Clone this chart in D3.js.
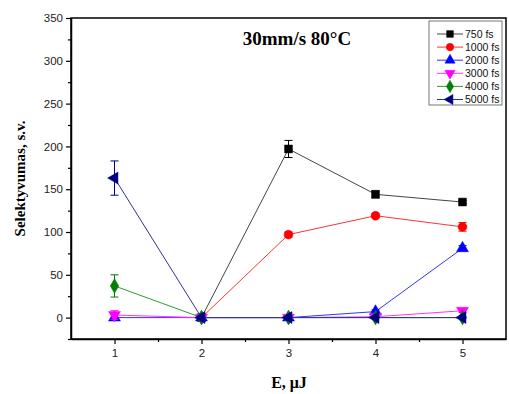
<!DOCTYPE html>
<html><head><meta charset="utf-8">
<script src="https://cdn.jsdelivr.net/npm/d3@7"></script>
<style>body{margin:0;background:#fff}svg{display:block}</style>
</head><body>
<script>
const energies = [1, 2, 3, 4, 5];
const seriesNames = ["750 fs", "1000 fs", "2000 fs", "3000 fs", "4000 fs", "5000 fs"];
const colors = ["#000000", "#ff0000", "#0000ff", "#ff00ff", "#008000", "#000080"];
const lineColors = ["#444444", "#ff3333", "#3333ff", "#ff33ff", "#339933", "#33338f"];
const symbols = ["square", "circle", "triUp", "triDown", "diamond", "triLeft"];
const v750 = [null, 0, 197, 144, 135];
const e750 = [0, 0, 10, 4, 2];
const v1000 = [null, 0, 97, 119, 106];
const e1000 = [0, 0, 3, 2, 5];
const v2000 = [0, 0, 0, 7, 81];
const e2000 = [0, 0, 0, 2, 3];
const v3000 = [3, 0, 0, 1, 8];
const e3000 = [5, 0, 0, 1, 2];
const v4000 = [37, 0, 0, 0, 0];
const e4000 = [13, 0, 0, 0, 0];
const v5000 = [163, 0, 0, 0, 0];
const e5000 = [20, 0, 0, 0, 0];
const values = [v750, v1000, v2000, v3000, v4000, v5000];
const errors = [e750, e1000, e2000, e3000, e4000, e5000];
const yTicks = [0, 50, 100, 150, 200, 250, 300, 350];
const xTicks = [1, 2, 3, 4, 5];
const title = "30mm/s 80°C";
const xLabel = "E, μJ";
const yLabel = "Selektyvumas, s.v.";

const W = 509, H = 394;
const m = {l: 71, r: 3, t: 18, b: 55};
const svg = d3.select("body").append("svg").attr("width", W).attr("height", H);
const x = d3.scaleLinear().domain([0.5, 5.5]).range([m.l, W - m.r]);
const y = d3.scaleLinear().domain([-25, 350]).range([H - m.b, m.t]);

// frame
svg.append("rect").attr("x", x(0.5)).attr("y", y(350)).attr("width", x(5.5) - x(0.5)).attr("height", y(-25) - y(350))
  .attr("fill", "none").attr("stroke", "#000").attr("stroke-width", 1.5);

// axes
const xAxis = d3.axisBottom(x).tickValues(xTicks).tickSize(5).tickSizeOuter(0).tickFormat(d3.format("d")).tickPadding(5);
svg.append("g").attr("transform", `translate(0,${y(-25)})`).call(xAxis);
const xMinor = d3.axisBottom(x).tickValues([1.5, 2.5, 3.5, 4.5]).tickSize(3).tickSizeOuter(0).tickFormat("");
svg.append("g").attr("transform", `translate(0,${y(-25)})`).call(xMinor).select(".domain").remove();
const yAxis = d3.axisLeft(y).tickValues(yTicks).tickSize(5).tickSizeOuter(0).tickPadding(3);
svg.append("g").attr("transform", `translate(${x(0.5)},0)`).call(yAxis);
const yMinor = d3.axisLeft(y).tickValues([-25, 25, 75, 125, 175, 225, 275, 325]).tickSize(3).tickSizeOuter(0).tickFormat("");
svg.append("g").attr("transform", `translate(${x(0.5)},0)`).call(yMinor).select(".domain").remove();
svg.selectAll(".domain").attr("stroke-width", 1.5);
svg.selectAll(".tick line").attr("stroke-width", 1.2);
svg.selectAll(".tick text").attr("font-family", "Liberation Sans, Arial, sans-serif").attr("font-size", 11.5).attr("fill", "#222");

// symbols
const sym = {
  square: d3.symbolSquare, circle: d3.symbolCircle, triUp: d3.symbolTriangle,
  triDown: d3.symbolTriangle, diamond: d3.symbolDiamond, triLeft: d3.symbolTriangle
};
const rot = {triDown: 180, triLeft: -90};
function marker(g, s, cx, cy, color, size) {
  g.append("path").attr("d", d3.symbol().type(sym[s]).size(size)())
    .attr("transform", `translate(${cx},${cy}) rotate(${rot[s] || 0})`)
    .attr("fill", color).attr("stroke", color).attr("stroke-width", 0.5);
}

const line = d3.line().defined(d => d.v !== null).x(d => x(d.e)).y(d => y(d.v));
values.forEach((vals, i) => {
  const g = svg.append("g");
  const pts = energies.map((e, j) => ({e, v: vals[j], err: errors[i][j]}));
  g.append("path").datum(pts).attr("d", line).attr("fill", "none").attr("stroke", lineColors[i]).attr("stroke-width", 1);
  pts.filter(d => d.v !== null).forEach(d => {
    if (d.err > 0) {
      const cx = x(d.e);
      g.append("line").attr("x1", cx).attr("x2", cx).attr("y1", y(d.v - d.err)).attr("y2", y(d.v + d.err)).attr("stroke", colors[i]).attr("stroke-width", 1);
      [d.v - d.err, d.v + d.err].forEach(ev => g.append("line").attr("x1", cx - 4).attr("x2", cx + 4).attr("y1", y(ev)).attr("y2", y(ev)).attr("stroke", colors[i]).attr("stroke-width", 1));
    }
    marker(g, symbols[i], x(d.e), y(d.v), colors[i], 62);
  });
});

// legend
const lg = svg.append("g");
lg.append("rect").attr("x", 429).attr("y", 21).attr("width", 73).attr("height", 84).attr("fill", "#fff").attr("stroke", "#555").attr("stroke-width", 0.8);
seriesNames.forEach((n, i) => {
  const ly = 34 + i * 13.1;
  lg.append("line").attr("x1", 437).attr("x2", 463).attr("y1", ly).attr("y2", ly).attr("stroke", lineColors[i]).attr("stroke-width", 1);
  marker(lg, symbols[i], 450, ly, colors[i], 45);
  lg.append("text").attr("x", 465).attr("y", ly + 3.8).text(n)
    .attr("font-family", "Liberation Sans, Arial, sans-serif").attr("font-size", 10.5).attr("fill", "#111");
});

// titles
svg.append("text").attr("x", 297).attr("y", 45).attr("text-anchor", "middle").text(title)
  .attr("font-family", "Liberation Serif, Times New Roman, serif").attr("font-weight", "bold").attr("font-size", 19);
svg.append("text").attr("x", 289).attr("y", 388).attr("text-anchor", "middle").text(xLabel)
  .attr("font-family", "Liberation Serif, Times New Roman, serif").attr("font-weight", "bold").attr("font-size", 16);
svg.append("text").attr("transform", `translate(25,${(y(350) + y(-25)) / 2}) rotate(-90)`).attr("text-anchor", "middle").text(yLabel)
  .attr("font-family", "Liberation Serif, Times New Roman, serif").attr("font-weight", "bold").attr("font-size", 15);
</script>
</body></html>
